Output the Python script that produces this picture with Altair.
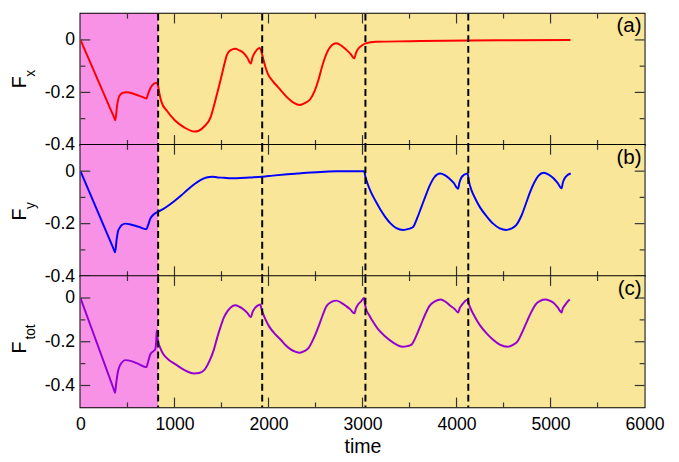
import altair as alt
import pandas as pd

W, H = 576, 134
FONT = "Liberation Sans"

# ---------------- data ----------------
phase_name = ["early", "late"]
phase_start = [0, 826]
phase_end = [826, 6000]
boundaries = [826, 1933, 3031, 4125]

x_label_values = [0, 1000, 2000, 3000, 4000, 5000, 6000]
x_major = [1000, 2000, 3000, 4000, 5000]
x_minor = [500, 1500, 2500, 3500, 4500, 5500]

panel_tags = ["(a)", "(b)", "(c)"]
ylab_main = ["F", "F", "F"]
ylab_sub = ["x", "y", "tot"]

t_x = [0, 355, 371, 389, 413, 448, 482, 550, 600, 650, 701, 720, 743, 777, 812, 826, 840, 864, 917,
       1003, 1107, 1211, 1260, 1316, 1385, 1420, 1455, 1490, 1524, 1559, 1594, 1646, 1690, 1732,
       1775, 1812, 1830, 1854, 1880, 1906, 1925, 1941, 1965, 1993, 2045, 2097, 2150, 2201, 2270,
       2333, 2390, 2444, 2490, 2531, 2565, 2600, 2650, 2722, 2775, 2826, 2870, 2913, 2930, 2948,
       2990, 3034, 3139, 3500, 4125, 4600, 5211]
f_x = [0, -0.293, -0.306, -0.251, -0.214, -0.202, -0.199, -0.203, -0.21, -0.216, -0.223, -0.205, -0.184,
       -0.168, -0.163, -0.175, -0.205, -0.239, -0.269, -0.306, -0.334, -0.349, -0.346, -0.33,
       -0.294, -0.251, -0.202, -0.153, -0.102, -0.056, -0.04, -0.034, -0.04, -0.049, -0.068,
       -0.09, -0.066, -0.049, -0.036, -0.031, -0.045, -0.068, -0.1, -0.129, -0.157, -0.178, -0.2,
       -0.22, -0.24, -0.248, -0.24, -0.226, -0.195, -0.153, -0.108, -0.068, -0.03, -0.013, -0.022,
       -0.037, -0.052, -0.07, -0.05, -0.037, -0.022, -0.013, -0.007, -0.005, -0.002, -0.001, 0]

t_y = [0, 350, 368, 385, 400, 413, 440, 475, 550, 620, 701, 720, 743, 770, 812, 882, 940, 1003, 1070,
       1142, 1210, 1281, 1340, 1402, 1460, 1524, 1600, 1663, 1800, 1933, 2045, 2200, 2305, 2450,
       2600, 2723, 3017, 3030, 3052, 3090, 3139, 3190, 3243, 3300, 3360, 3434, 3490, 3538, 3580,
       3625, 3670, 3711, 3760, 3826, 3875, 3920, 3970, 4017, 4030, 4048, 4080, 4118, 4130, 4163,
       4200, 4250, 4320, 4389, 4460, 4528, 4580, 4632, 4690, 4736, 4780, 4823, 4870, 4927, 4980,
       5031, 5075, 5118, 5130, 5146, 5180, 5215]
f_y = [0, -0.294, -0.309, -0.26, -0.228, -0.218, -0.205, -0.2, -0.205, -0.212, -0.221, -0.205, -0.181,
       -0.168, -0.157, -0.144, -0.13, -0.113, -0.093, -0.07, -0.05, -0.033, -0.024, -0.021,
       -0.024, -0.025, -0.027, -0.027, -0.024, -0.021, -0.017, -0.012, -0.009, -0.005, -0.002, 0,
       0, -0.02, -0.046, -0.08, -0.114, -0.146, -0.175, -0.2, -0.217, -0.224, -0.22, -0.213,
       -0.18, -0.138, -0.095, -0.058, -0.025, -0.009, -0.015, -0.027, -0.045, -0.067, -0.045,
       -0.027, -0.014, -0.009, -0.035, -0.076, -0.105, -0.138, -0.172, -0.2, -0.218, -0.224,
       -0.219, -0.207, -0.17, -0.126, -0.082, -0.046, -0.018, -0.006, -0.013, -0.027, -0.045,
       -0.065, -0.045, -0.03, -0.015, -0.009]

t_tot = [0, 350, 368, 380, 395, 406, 440, 475, 550, 620, 701, 720, 743, 770, 795, 805, 812, 818, 826,
         850, 882, 940, 1003, 1107, 1211, 1260, 1316, 1370, 1420, 1455, 1490, 1525, 1566, 1600,
         1646, 1690, 1732, 1775, 1812, 1830, 1854, 1880, 1913, 1925, 1941, 1970, 2010, 2070, 2131,
         2180, 2236, 2290, 2333, 2380, 2427, 2480, 2531, 2575, 2618, 2670, 2722, 2775, 2826, 2870,
         2913, 2930, 2948, 2985, 3017, 3025, 3034, 3070, 3104, 3170, 3243, 3330, 3427, 3475, 3521,
         3575, 3625, 3670, 3711, 3770, 3833, 3880, 3937, 3980, 4017, 4035, 4059, 4090, 4121, 4130,
         4146, 4200, 4250, 4320, 4389, 4460, 4545, 4600, 4649, 4700, 4753, 4800, 4840, 4890, 4944,
         4990, 5031, 5075, 5118, 5130, 5146, 5175, 5204]
f_tot = [0, -0.412, -0.433, -0.39, -0.345, -0.323, -0.295, -0.284, -0.29, -0.302, -0.316, -0.29, -0.257,
         -0.245, -0.235, -0.2, -0.147, -0.175, -0.198, -0.23, -0.257, -0.283, -0.301, -0.33,
         -0.345, -0.343, -0.33, -0.29, -0.235, -0.18, -0.132, -0.09, -0.059, -0.042, -0.033,
         -0.04, -0.051, -0.068, -0.088, -0.065, -0.047, -0.036, -0.03, -0.05, -0.07, -0.1, -0.132,
         -0.165, -0.191, -0.215, -0.235, -0.246, -0.25, -0.243, -0.228, -0.185, -0.132, -0.08,
         -0.037, -0.018, -0.012, -0.022, -0.037, -0.052, -0.07, -0.048, -0.033, -0.015, 0, -0.025,
         -0.044, -0.078, -0.103, -0.145, -0.176, -0.205, -0.223, -0.22, -0.213, -0.17, -0.118,
         -0.072, -0.037, -0.015, -0.007, -0.016, -0.037, -0.05, -0.066, -0.045, -0.03, -0.015,
         -0.007, -0.025, -0.044, -0.09, -0.125, -0.162, -0.191, -0.213, -0.223, -0.214, -0.198,
         -0.155, -0.103, -0.06, -0.03, -0.013, -0.007, -0.012, -0.022, -0.042, -0.066, -0.048,
         -0.037, -0.02, -0.007]

# ---------------- helpers ----------------
xs = alt.Scale(domain=[0, 6000], nice=False, zero=False)
bg_df = pd.DataFrame({"phase": phase_name, "start": phase_start, "end": phase_end})
bnd_df = pd.DataFrame({"b": boundaries})
xmaj_df = pd.DataFrame({"v": x_major})
xmin_df = pd.DataFrame({"v": x_minor})

LABEL_EXPR = "datum.value == 0 ? '0' : (datum.value < 0 ? '-' : '') + format(abs(datum.value), '.1f')"


def panel(i, t, f, color, ydomain, y_major, y_minor, bottom, title_y):
    ys = alt.Scale(domain=ydomain, nice=False, zero=False)
    if bottom:
        xaxis = alt.Axis(values=x_label_values, ticks=False, domain=False, grid=False,
                         labelFontSize=18, labelFont=FONT, labelColor="black", labelPadding=9,
                         format="d", labelFlush=False, labelOverlap=False,
                         title="time", titleFont=FONT, titleFontSize=20, titleFontWeight="normal",
                         titleColor="black", titlePadding=3)
    else:
        xaxis = None
    yaxis = alt.Axis(values=y_major, ticks=False, domain=False, grid=False, labelFontSize=18,
                     labelFont=FONT, labelColor="black", labelPadding=6, labelExpr=LABEL_EXPR,
                     labelFlush=False, labelOverlap=False, title=None)

    def X(field):
        return alt.X(field, scale=xs, axis=xaxis, title="time" if bottom else None)

    def Y(field):
        return alt.Y(field, scale=ys, axis=yaxis, title=None)

    bg = alt.Chart(bg_df).mark_rect().encode(
        x=X("start:Q"), x2="end:Q", y=alt.value(0), y2=alt.value(H),
        color=alt.Color("phase:N", scale=alt.Scale(domain=phase_name, range=["#F892E6", "#F9E698"]),
                        legend=None),
    )
    line = alt.Chart(pd.DataFrame({"t": t, "f": f})).mark_line(
        color=color, strokeWidth=2, clip=True, interpolate="monotone").encode(x=X("t:Q"), y=Y("f:Q"))
    dashed = alt.Chart(bnd_df).mark_rule(color="black", strokeWidth=2, strokeDash=[7, 4]).encode(
        x=X("b:Q"))

    ymaj_df = pd.DataFrame({"v": y_major})
    ymin_df = pd.DataFrame({"v": y_minor})
    tick_layers = []
    for dfx, ln in ((xmaj_df, 10), (xmin_df, 5)):
        tick_layers.append(alt.Chart(dfx).mark_rule(color="#333333", strokeWidth=1.2).encode(
            x=X("v:Q"), y=alt.value(0), y2=alt.value(ln)))
        tick_layers.append(alt.Chart(dfx).mark_rule(color="#333333", strokeWidth=1.2).encode(
            x=X("v:Q"), y=alt.value(H), y2=alt.value(H - ln)))
    for dfy, ln in ((ymaj_df, 10), (ymin_df, 5)):
        tick_layers.append(alt.Chart(dfy).mark_rule(color="#333333", strokeWidth=1.2).encode(
            y=Y("v:Q"), x=alt.value(0), x2=alt.value(ln)))
        tick_layers.append(alt.Chart(dfy).mark_rule(color="#333333", strokeWidth=1.2).encode(
            y=Y("v:Q"), x=alt.value(W), x2=alt.value(W - ln)))

    lab_df = pd.DataFrame({"tag": [panel_tags[i]], "main": [ylab_main[i]], "sub": [ylab_sub[i]]})
    tag = alt.Chart(lab_df).mark_text(font=FONT, fontSize=21, align="right", baseline="alphabetic",
                                      color="black").encode(
        x=alt.value(W - 3), y=alt.value(19), text="tag:N")
    fmain = alt.Chart(lab_df).mark_text(font=FONT, fontSize=20, align="center", baseline="alphabetic",
                                        angle=270, color="black").encode(
        x=alt.value(-56), y=alt.value(title_y[0]), text="main:N")
    fsub = alt.Chart(lab_df).mark_text(font=FONT, fontSize=14, align="center", baseline="alphabetic",
                                       angle=270, color="black").encode(
        x=alt.value(-46), y=alt.value(title_y[1]), text="sub:N")

    return alt.layer(bg, line, dashed, *tick_layers, tag, fmain, fsub).properties(width=W, height=H)


pa = panel(0, t_x, f_x, "#FF0000", [-0.4, 0.1], [0, -0.2, -0.4], [-0.1, -0.3], False, (70, 61))
pb = panel(1, t_y, f_y, "#0000FF", [-0.4, 0.1], [0, -0.2, -0.4], [-0.1, -0.3], False, (71, 62))
pc = panel(2, t_tot, f_tot, "#9400D3", [-0.5, 0.1], [0, -0.2, -0.4], [-0.1, -0.3], True, (73, 57))

chart = alt.vconcat(pa, pb, pc, spacing=0, bounds="flush").properties(
    padding={"left": 1, "top": -1, "right": 5, "bottom": 0}
).configure_view(stroke="black", strokeWidth=2).configure_axis(grid=False)

chart.save("out.html", embed_options={"renderer": "svg", "actions": False})
